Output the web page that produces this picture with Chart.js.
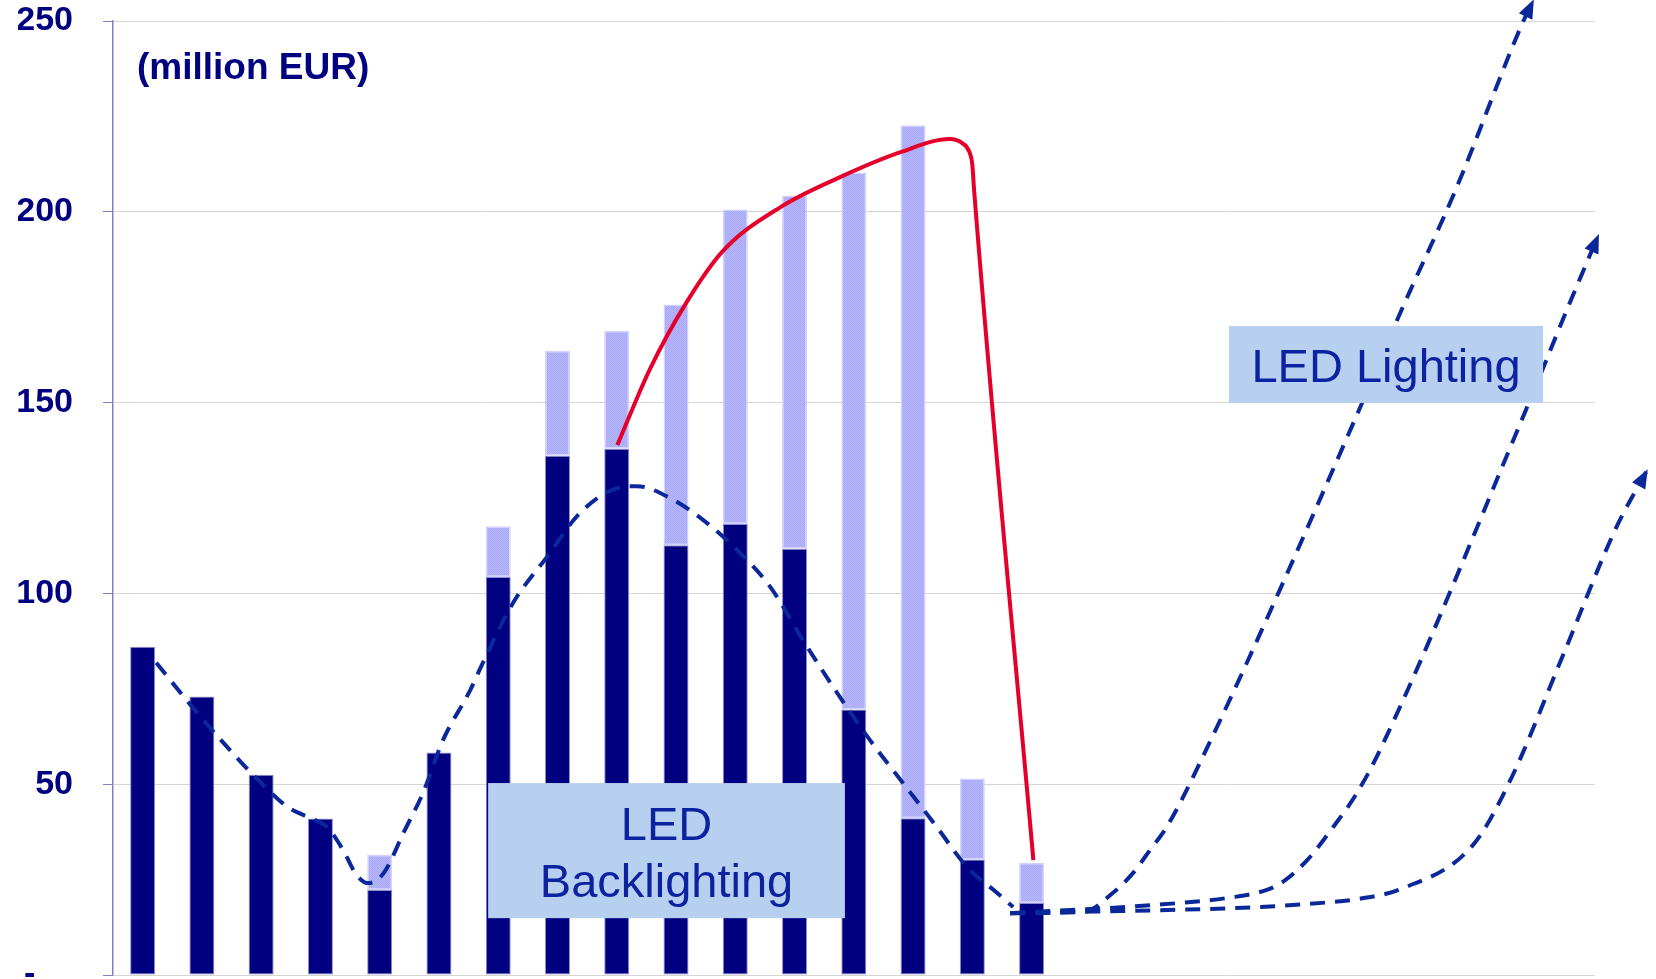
<!DOCTYPE html>
<html>
<head>
<meta charset="utf-8">
<script src="https://cdn.jsdelivr.net/npm/chart.js@4.4.1/dist/chart.umd.min.js"></script>
<style>
  html, body { margin: 0; padding: 0; background: #ffffff; overflow: hidden; }
  #wrap { width: 1656px; height: 979px; position: relative; }
</style>
</head>
<body>
<div id="wrap"><canvas id="chart" width="1656" height="979"></canvas></div>
<script>
// Periods on the horizontal axis (unlabelled); the last nine are the forecast span.
const categories = ['1','2','3','4','5','6','7','8','9','10','11','12','13',
                    '14','15','16','17','18','19','20','21','22','23','24','25'];

// Market size per period, million EUR
const backlightingCore  = [86, 73, 52.5, 41, 22.3, 58.3, 104.3, 136.1, 137.9, 112.6, 118.2, 111.7, 69.6, 41.1, 30.3, 18.9];
const backlightingExtra = [null, null, null, null, 9.2, null, 13.3, 27.5, 30.9, 63.1, 82.4, 92.6, 140.7, 181.6, 21.2, 10.5];

const yTicks = [0, 50, 100, 150, 200, 250];

// Cycle trend of the backlighting segment (x = period index, y = million EUR)
const backlightingTrend = [
  {x: 0.23, y: 81.8}, {x: 0.85, y: 70.0}, {x: 1.44, y: 59.5}, {x: 1.95, y: 51.1},
  {x: 2.45, y: 44.0}, {x: 2.91, y: 40.6}, {x: 3.11, y: 38.8}, {x: 3.38, y: 32.8},
  {x: 3.59, y: 26.7}, {x: 3.79, y: 24.1}, {x: 3.96, y: 24.9}, {x: 4.12, y: 28.0},
  {x: 4.40, y: 37.2}, {x: 4.73, y: 47.7}, {x: 5.07, y: 61.6}, {x: 5.53, y: 74.7},
  {x: 5.74, y: 81.8}, {x: 6.25, y: 97.5}, {x: 6.82, y: 109.5}, {x: 7.38, y: 121.1},
  {x: 8.01, y: 127.6}, {x: 8.34, y: 128.1}, {x: 8.90, y: 125.0}, {x: 9.46, y: 119.2},
  {x: 10.03, y: 111.4}, {x: 10.59, y: 101.7}, {x: 11.14, y: 87.8}, {x: 11.72, y: 73.9},
  {x: 12.27, y: 61.6}, {x: 12.83, y: 50.3}, {x: 13.40, y: 38.8}, {x: 13.91, y: 28.3},
  {x: 14.42, y: 21.5}, {x: 14.69, y: 17.8}
];

// Boom and collapse envelope over the total bars
const boomEnvelope = [
  {x: 8.01, y: 138.9}, {x: 8.56, y: 158.8}, {x: 9.19, y: 176.6}, {x: 9.79, y: 189.7},
  {x: 10.77, y: 201.3}, {x: 11.77, y: 209.1}, {x: 12.80, y: 215.7}, {x: 13.62, y: 219.1},
  {x: 13.83, y: 218.0}, {x: 13.95, y: 215.7}, {x: 14.00, y: 212.3}, {x: 14.03, y: 205.7},
  {x: 15.03, y: 30.1}
];

// LED lighting growth scenarios
const lightingFast = [
  {x: 14.64, y: 16.2}, {x: 15.87, y: 16.5}, {x: 16.37, y: 21.5}, {x: 16.71, y: 26.7},
  {x: 17.00, y: 32.8}, {x: 17.28, y: 38.8}, {x: 17.84, y: 55.6}, {x: 20.49, y: 146.8},
  {x: 21.22, y: 173.5}, {x: 22.14, y: 205.2}, {x: 23.29, y: 249.7}, {x: 23.46, y: 255.2}
];
const lightingMedium = [
  {x: 14.64, y: 16.2}, {x: 17.02, y: 18.3}, {x: 18.40, y: 20.4}, {x: 18.97, y: 22.3},
  {x: 19.24, y: 24.4}, {x: 19.65, y: 30.1}, {x: 20.09, y: 38.8}, {x: 20.49, y: 47.7},
  {x: 20.88, y: 59.0}, {x: 23.32, y: 147.3}, {x: 24.08, y: 176.1}, {x: 24.56, y: 193.7}
];
const lightingSlow = [
  {x: 14.64, y: 16.2}, {x: 18.82, y: 17.8}, {x: 19.90, y: 18.9}, {x: 20.41, y: 19.7},
  {x: 21.22, y: 22.5}, {x: 22.45, y: 34.1}, {x: 23.07, y: 50.8}, {x: 23.97, y: 83.9},
  {x: 24.86, y: 117.1}, {x: 25.38, y: 132.1}
];

const FONT = "'Liberation Sans', Arial, Helvetica, sans-serif";
const NAVY = '#000080';
const DASH_BLUE = '#0a2899';
const LABEL_BLUE = '#0c22a0';
const BOX_FILL = '#b8d0f0';

// Fine dithered fill used for the upper (extra) bar segments
function ditherPattern() {
  const c = document.createElement('canvas');
  c.width = 2; c.height = 2;
  const g = c.getContext('2d');
  g.fillStyle = '#b6b6fd'; g.fillRect(0, 0, 2, 2);
  g.fillStyle = '#a9a9f6'; g.fillRect(0, 0, 1, 1); g.fillRect(1, 1, 1, 1);
  return g.createPattern(c, 'repeat');
}

// Text boxes, anchored in data coordinates: [x0, x1, yTop, yBottom]
const boxes = [
  { area: [5.83, 11.85, 50.3, 14.9], lines: [['LED', 57], ['Backlighting', 114]] },
  { area: [18.33, 23.63, 170.1, 149.9], lines: [['LED Lighting', 56]] }
];

const overlay = {
  id: 'overlay',
  afterDatasetsDraw(chart) {
    const ctx = chart.ctx;
    const xs = chart.scales.xl, ys = chart.scales.y;

    // arrow heads at the end of each growth scenario
    chart.data.datasets.forEach((ds, i) => {
      if (!ds.arrowEnd) return;
      const pts = chart.getDatasetMeta(i).data;
      const p = pts[pts.length - 1];
      const q = pts[pts.length - 2];
      const useCp = p.cp1x !== undefined && Math.hypot(p.x - p.cp1x, p.y - p.cp1y) > 0.5;
      const fx = useCp ? p.cp1x : q.x;
      const fy = useCp ? p.cp1y : q.y;
      const a = Math.atan2(p.y - fy, p.x - fx);
      const len = 17, half = 7.5;
      ctx.save();
      ctx.fillStyle = DASH_BLUE;
      ctx.beginPath();
      ctx.moveTo(p.x + Math.cos(a) * 2, p.y + Math.sin(a) * 2);
      ctx.lineTo(p.x - Math.cos(a) * len - Math.sin(a) * half, p.y - Math.sin(a) * len + Math.cos(a) * half);
      ctx.lineTo(p.x - Math.cos(a) * len + Math.sin(a) * half, p.y - Math.sin(a) * len - Math.cos(a) * half);
      ctx.closePath();
      ctx.fill();
      ctx.restore();
    });

    // labelled boxes
    boxes.forEach(b => {
      const x0 = xs.getPixelForValue(b.area[0]);
      const x1 = xs.getPixelForValue(b.area[1]);
      const y0 = ys.getPixelForValue(b.area[2]);
      const y1 = ys.getPixelForValue(b.area[3]);
      ctx.save();
      ctx.fillStyle = BOX_FILL;
      ctx.fillRect(x0, y0, x1 - x0, y1 - y0);
      ctx.fillStyle = LABEL_BLUE;
      ctx.font = '47px ' + FONT;
      ctx.textAlign = 'center';
      ctx.textBaseline = 'alphabetic';
      b.lines.forEach(([t, dy]) => ctx.fillText(t, (x0 + x1) / 2, y0 + dy));
      ctx.restore();
    });

    // unit caption
    ctx.save();
    ctx.fillStyle = NAVY;
    ctx.font = 'bold 37px ' + FONT;
    ctx.textAlign = 'left';
    ctx.textBaseline = 'alphabetic';
    ctx.fillText('(million EUR)', 137, 79);
    ctx.restore();
  }
};

const dashed = (data, extra) => Object.assign({
  type: 'line',
  data,
  xAxisID: 'xl',
  yAxisID: 'y',
  borderColor: DASH_BLUE,
  borderWidth: 4,
  borderDash: [15, 10],
  pointRadius: 0,
  fill: false,
  cubicInterpolationMode: 'monotone',
  clip: false,
  order: 1
}, extra || {});

// both bar series share one column per period
const barStyle = {
  stack: 'market', grouped: false,
  categoryPercentage: 1, barPercentage: 0.422,
  borderSkipped: false, order: 2
};

new Chart(document.getElementById('chart'), {
  data: {
    labels: categories,
    datasets: [
      Object.assign({ type: 'bar', data: backlightingCore,
        backgroundColor: NAVY, borderColor: '#8e8ec8', borderWidth: 1 }, barStyle),
      Object.assign({ type: 'bar', data: backlightingExtra,
        backgroundColor: ditherPattern(), borderColor: '#d2d2ff', borderWidth: 1.5 }, barStyle),
      dashed(backlightingTrend),
      {
        type: 'line', data: boomEnvelope, xAxisID: 'xl', yAxisID: 'y',
        borderColor: '#e5002b', borderWidth: 4, pointRadius: 0, fill: false,
        cubicInterpolationMode: 'monotone', clip: false, order: 1
      },
      dashed(lightingFast, { arrowEnd: true }),
      dashed(lightingMedium, { arrowEnd: true }),
      dashed(lightingSlow, { arrowEnd: true })
    ]
  },
  options: {
    responsive: false,
    animation: false,
    devicePixelRatio: 1,
    layout: { padding: { left: 18, right: 61.4, top: 21, bottom: 4 } },
    plugins: { legend: { display: false }, tooltip: { enabled: false } },
    scales: {
      x: { type: 'category', display: false, offset: true, stacked: true, grid: { display: false } },
      xl: {
        type: 'linear', display: false, bounds: 'data',
        // same span as the category axis, set after the data limits so that
        // curve points past the right edge are still drawn
        afterDataLimits: s => { s.min = -0.5; s.max = 24.5; }
      },
      y: {
        type: 'linear', position: 'left', min: 0, max: 250,
        afterBuildTicks: s => { s.ticks = yTicks.map(v => ({ value: v })); },
        afterFit: s => { s.width = 95; s.paddingTop = 0; s.paddingBottom = 0; },
        border: { display: true, color: '#7e7ec4', width: 1.5 },
        grid: { color: '#d6d6d6', lineWidth: 1, tickLength: 10, tickColor: '#7e7ec4', drawTicks: true },
        ticks: {
          color: NAVY, padding: 30,
          font: { family: FONT, size: 34, weight: 'bold' },
          callback: v => v === 0 ? '-    ' : String(v)
        }
      }
    }
  },
  plugins: [overlay]
});
</script>
</body>
</html>
